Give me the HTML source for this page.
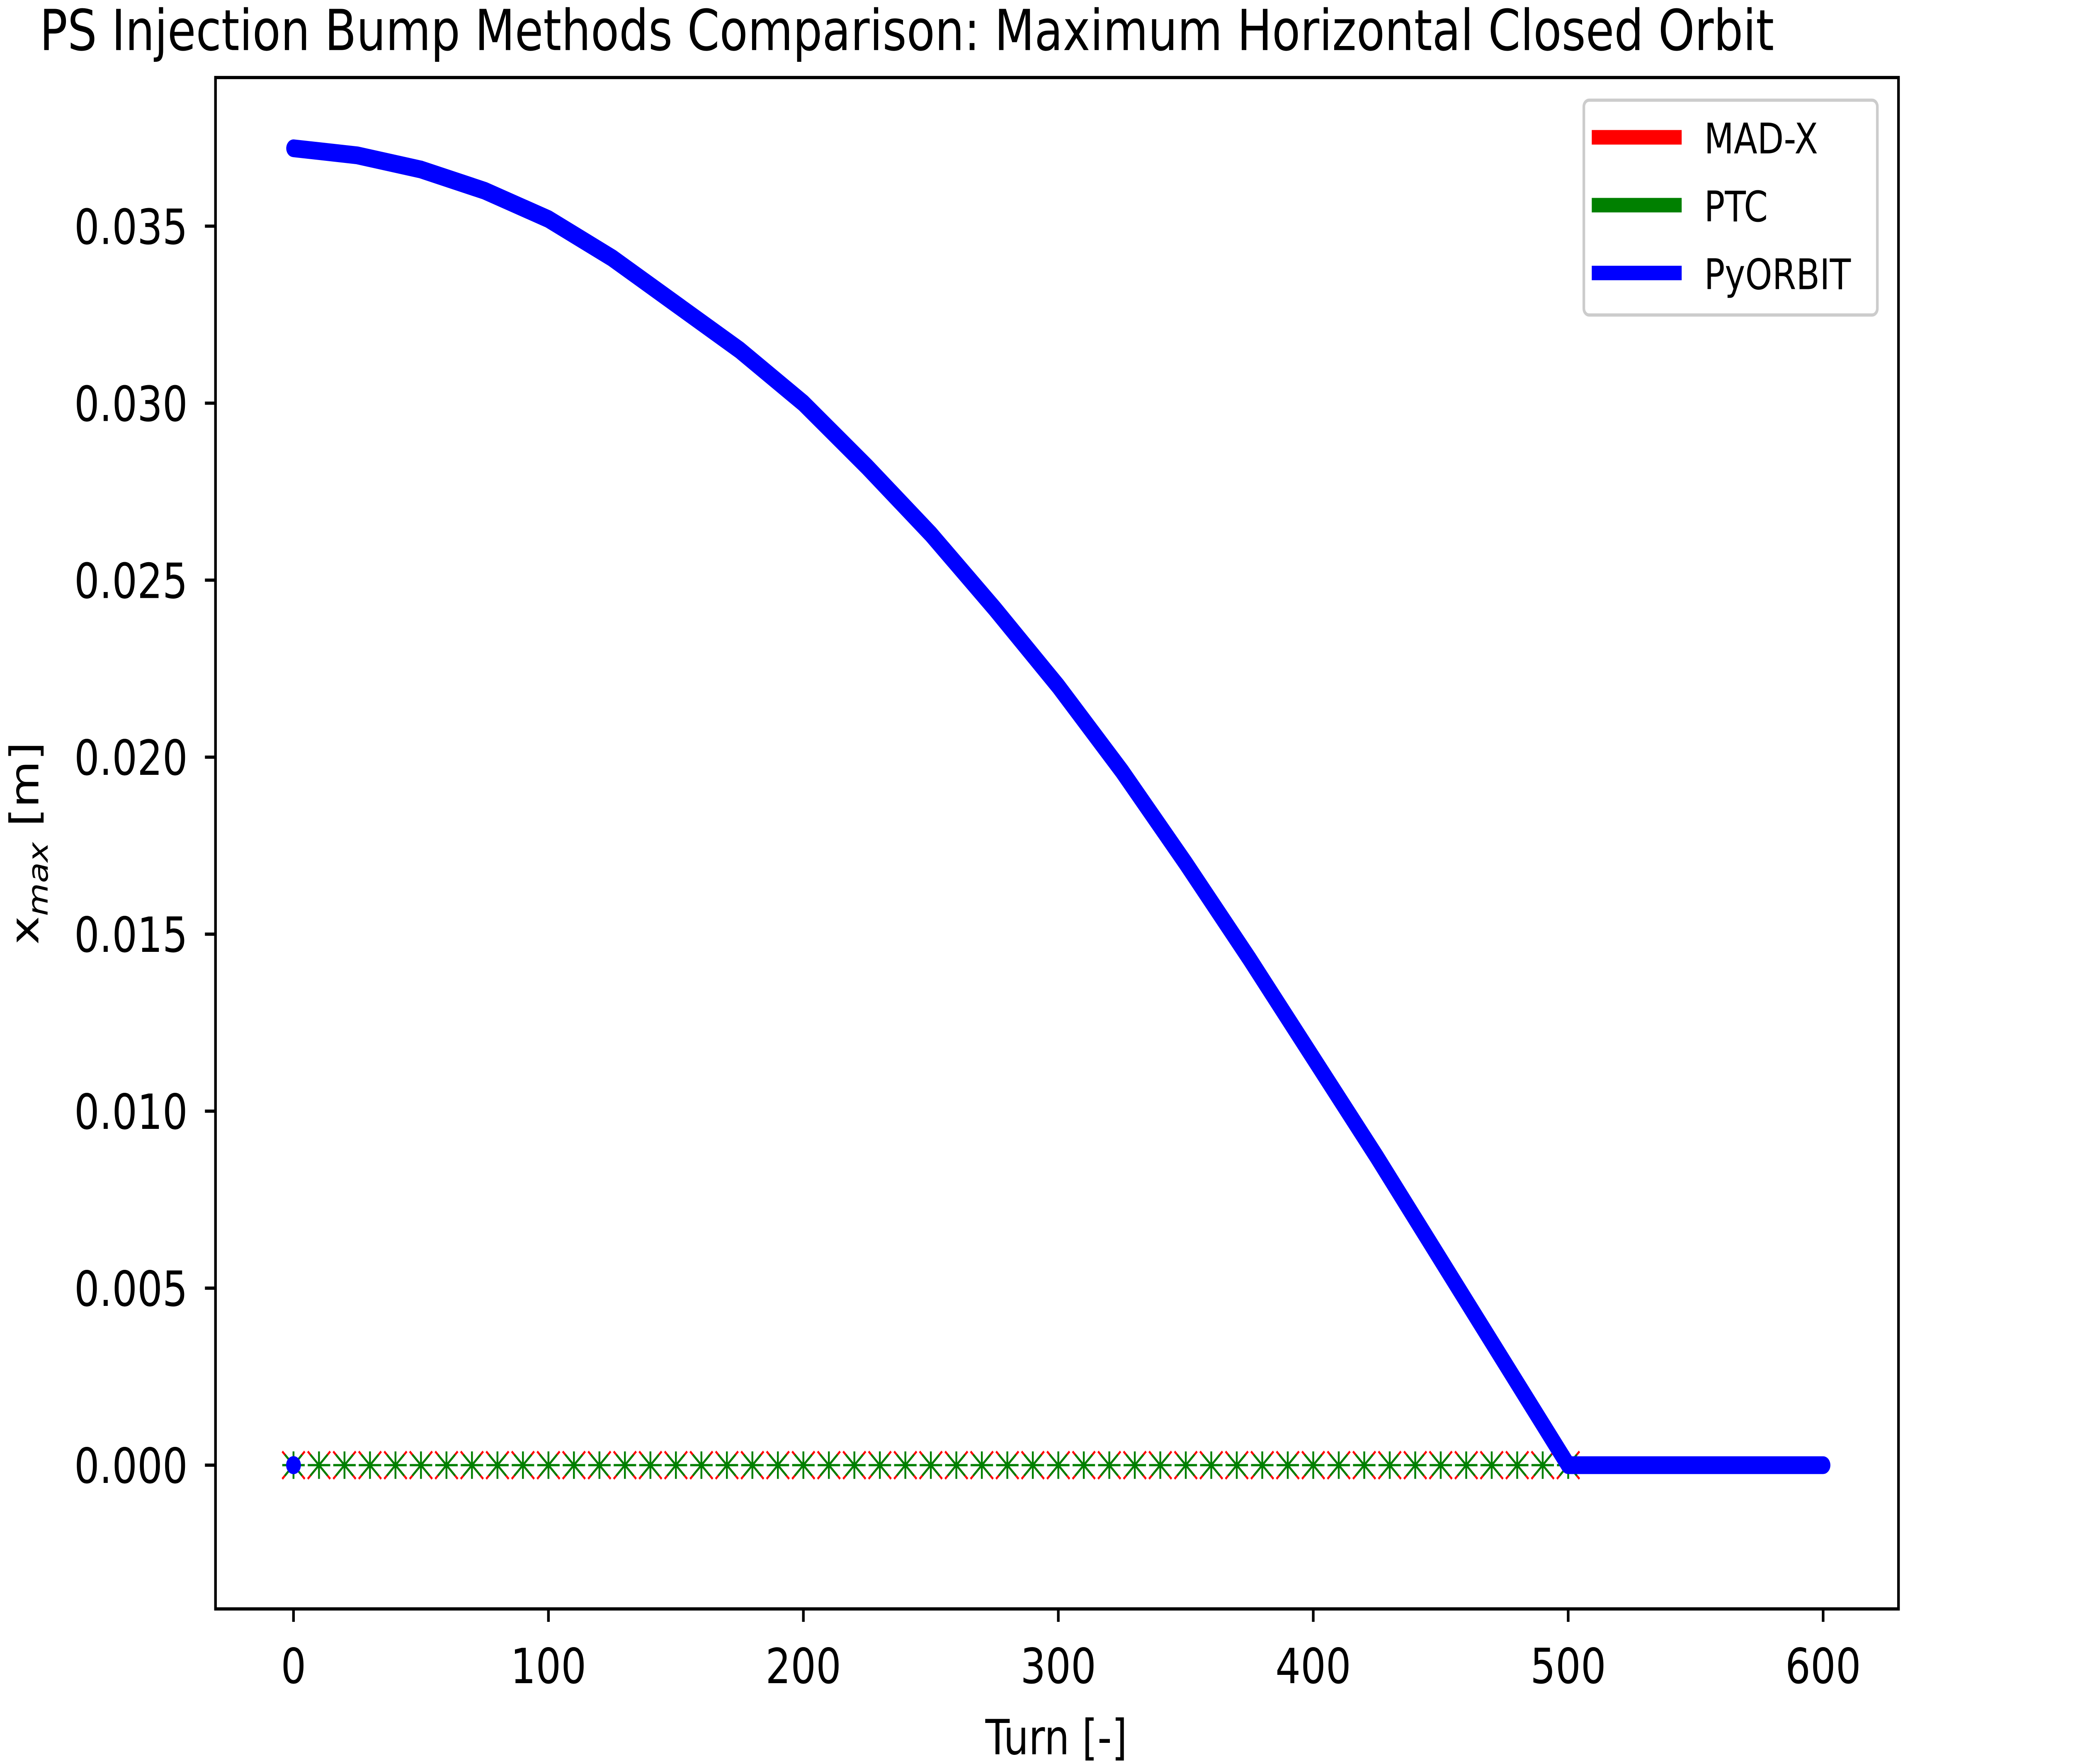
<!DOCTYPE html>
<html><head><meta charset="utf-8"><style>html,body{margin:0;padding:0;background:#fff;width:100vw;height:100vh;overflow:hidden}svg{display:block;width:100vw;height:100vh}text{font-family:"DejaVu Sans","Liberation Sans",sans-serif}</style></head>
<body>
<svg id="chart" viewBox="0 0 1568 1092" preserveAspectRatio="none" xmlns="http://www.w3.org/2000/svg">
<rect width="1568" height="1092" fill="#fff"/>
<text x="30" y="31" font-size="35">PS Injection Bump Methods Comparison: Maximum Horizontal Closed Orbit</text>
<g id="plot"></g>
<rect x="163" y="48" width="1273" height="948" fill="none" stroke="#000" stroke-width="2"/>
<text x="799" y="1086" font-size="30" text-anchor="middle">Turn [-]</text>
<text transform="translate(29,522) rotate(-90)" font-size="30" text-anchor="middle">x<tspan font-size="21" font-style="italic" dy="7">max</tspan><tspan dy="-7"> [m]</tspan></text>
<g>
<rect x="1198" y="62" width="222" height="133" rx="4" fill="#fff" stroke="#ccc" stroke-width="2"/>
<line x1="1204" y1="85" x2="1272" y2="85" stroke="red" stroke-width="9"/>
<text x="1289" y="95" font-size="26">MAD-X</text>
<line x1="1204" y1="127" x2="1272" y2="127" stroke="green" stroke-width="9"/>
<text x="1289" y="137" font-size="26">PTC</text>
<line x1="1204" y1="169" x2="1272" y2="169" stroke="blue" stroke-width="9"/>
<text x="1289" y="179" font-size="26">PyORBIT</text>
</g>
</svg>
<script>
const xTicks=[0,100,200,300,400,500,600];
const yTicks=[0,0.005,0.010,0.015,0.020,0.025,0.030,0.035];
const yTickLabels=["0.000","0.005","0.010","0.015","0.020","0.025","0.030","0.035"];
const pyTurns=[0,25,50,75,100,125,150,175,200,225,250,275,300,325,350,375,400,425,450,475,500,550,600];
const pyValues=[0.0372,0.0370,0.0366,0.0360,0.0352,0.0341,0.0328,0.0315,0.0300,0.0282,0.0263,0.0242,0.0220,0.0196,0.0170,0.0143,0.0115,0.0087,0.0058,0.0029,0.0,0.0,0.0];
const markerTurns=[];for(let t=0;t<=500;t+=10)markerTurns.push(t);
const madxValues=markerTurns.map(()=>0);
const ptcValues=markerTurns.map(()=>0);
const X=t=>222+(t/600)*(1379-222);
const Y=v=>907-(v/0.035)*(907-140);
const NS="http://www.w3.org/2000/svg";
const g=document.getElementById('plot');
function mk(tag,attrs){const e=document.createElementNS(NS,tag);for(const k in attrs)e.setAttribute(k,attrs[k]);g.appendChild(e);return e;}
xTicks.forEach(t=>{
 const l=mk('line',{x1:X(t),x2:X(t),y1:996,y2:1004,stroke:'#000','stroke-width':2});
 
 
 const tx=mk('text',{x:X(t),y:1042,'font-size':30,'text-anchor':'middle'});tx.textContent=t;
 
 
});
yTicks.forEach((v,i)=>{
 const l=mk('line',{x1:155,x2:163,y1:Y(v),y2:Y(v),stroke:'#000','stroke-width':2});
 
 
 const tx=mk('text',{x:142,y:Y(v)+11,'font-size':30,'text-anchor':'end'});tx.textContent=yTickLabels[i];
 
 
});
markerTurns.forEach((t,i)=>{
 const x=X(t),y=Y(madxValues[i]),s=8.5;
 const m=mk('path',{d:`M${x-s},${y-s}L${x+s},${y+s}M${x-s},${y+s}L${x+s},${y-s}`,stroke:'red','stroke-width':1.4,fill:'none'});
 
 
});
markerTurns.forEach((t,i)=>{
 const x=X(t),y=Y(ptcValues[i]),s=8.5,d=6.5;
 const m=mk('path',{d:`M${x-s},${y}L${x+s},${y}M${x},${y-s}L${x},${y+s}M${x-d},${y-d}L${x+d},${y+d}M${x-d},${y+d}L${x+d},${y-d}`,stroke:'green','stroke-width':1.4,fill:'none'});
 
 
});
const pl=mk('polyline',{points:pyTurns.map((t,i)=>X(t)+','+Y(pyValues[i])).join(' '),fill:'none',stroke:'blue','stroke-width':11,'stroke-linecap':'round','stroke-linejoin':'round'});


const dot=mk('circle',{cx:X(0),cy:Y(0),r:5.6,fill:'blue'});


</script>
</body></html>
